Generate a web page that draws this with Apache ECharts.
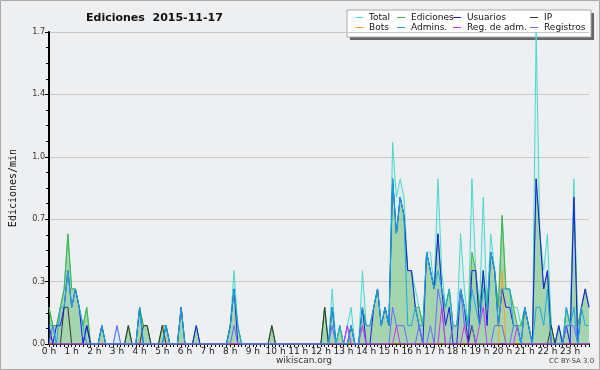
<!DOCTYPE html>
<html>
<head>
<meta charset="utf-8">
<script src="https://cdn.jsdelivr.net/npm/echarts@6/dist/echarts.min.js"></script>
<style>
    html, body { margin: 0; padding: 0; background: #eeeff1; }
    #ediciones { width: 600px; height: 370px; }
</style>
</head>
<body>
<div id="ediciones"></div>
<script>
    // tramos de 10 minutos, 0:00 .. 23:50
    var horas = [];
    for (var h = 0; h < 24; h++) {
        for (var m = 0; m < 60; m += 10) horas.push(h + ':' + (m < 10 ? '0' + m : m));
    }

    var total = [
        .2, .1, .1, .2, .3, .6, .3, .3, .2, .1, .2, 0,
        0, 0, .1, 0, 0, 0, .1, 0, 0, .1, 0, 0,
        .2, .1, .1, 0, 0, 0, .1, .1, 0, 0, 0, .2,
        0, 0, 0, .1, 0, 0, 0, 0, 0, 0, 0, 0,
        .1, .4, .1, 0, 0, 0, 0, 0, 0, 0, 0, .1,
        0, 0, 0, 0, 0, 0, 0, 0, 0, 0, 0, 0,
        0, .2, 0, .3, 0, .1, 0, .1, .2, 0, 0, .4,
        .1, .1, .2, .3, .1, .2, .1, 1.1, .8, .9, .8, .4,
        .4, .3, .2, .1, .5, .5, .3, .9, .4, .2, .3, .1,
        .1, .6, .3, .1, .9, .4, .2, .8, .2, .6, .4, .2,
        .7, .3, .3, .2, .2, .1, .2, .1, 0, 1.7, .6, .4,
        .6, .1, 0, .1, 0, .2, .1, .9, .1, .2, .3, .2
    ];
    var ediciones = [
        .2, .1, .1, .2, .3, .6, .3, .3, .2, .1, .2, 0,
        0, 0, .1, 0, 0, 0, 0, 0, 0, .1, 0, 0,
        .2, .1, .1, 0, 0, 0, .1, .1, 0, 0, 0, .2,
        0, 0, 0, .1, 0, 0, 0, 0, 0, 0, 0, 0,
        .1, .3, .1, 0, 0, 0, 0, 0, 0, 0, 0, .1,
        0, 0, 0, 0, 0, 0, 0, 0, 0, 0, 0, 0,
        0, .2, 0, .2, 0, .1, 0, 0, .1, 0, 0, .2,
        .1, .1, .2, .3, .1, .2, .1, .9, .6, .8, .7, .4,
        .4, .2, .2, .1, .5, .4, .3, .6, .3, .2, .3, .1,
        .1, .3, .2, .1, .5, .4, .2, .4, .2, .5, .4, .2,
        .7, .3, .3, .2, .1, .1, .2, .1, 0, .9, .6, .3,
        .4, .1, 0, .1, 0, .2, .1, .8, .1, .2, .3, .2
    ];
    var usuarios = [
        .1, 0, .1, .1, .2, .4, .2, .3, .2, 0, .1, 0,
        0, 0, .1, 0, 0, 0, 0, 0, 0, 0, 0, 0,
        .2, 0, 0, 0, 0, 0, 0, .1, 0, 0, 0, .2,
        0, 0, 0, .1, 0, 0, 0, 0, 0, 0, 0, 0,
        .1, .3, 0, 0, 0, 0, 0, 0, 0, 0, 0, 0,
        0, 0, 0, 0, 0, 0, 0, 0, 0, 0, 0, 0,
        0, 0, 0, .2, 0, 0, 0, 0, .1, 0, 0, .2,
        0, 0, .2, .3, .1, .2, .1, .9, .6, .8, .7, .4,
        .4, .2, .1, 0, .5, .4, .3, .6, .3, .1, .2, 0,
        0, .3, .2, 0, .4, .4, .1, .4, .1, .5, .4, .1,
        .3, .2, .2, .1, .1, 0, .2, .1, 0, .9, .6, .3,
        .4, 0, 0, .1, 0, .1, 0, .8, 0, .2, .3, .2
    ];
    var ip = [
        0, 0, 0, 0, .2, .2, 0, 0, 0, 0, .1, 0,
        0, 0, 0, 0, 0, 0, 0, 0, 0, .1, 0, 0,
        0, .1, .1, 0, 0, 0, .1, 0, 0, 0, 0, 0,
        0, 0, 0, 0, 0, 0, 0, 0, 0, 0, 0, 0,
        0, 0, 0, 0, 0, 0, 0, 0, 0, 0, 0, .1,
        0, 0, 0, 0, 0, 0, 0, 0, 0, 0, 0, 0,
        0, .2, 0, 0, 0, 0, 0, 0, 0, 0, 0, 0,
        0, 0, 0, 0, 0, 0, 0, 0, 0, 0, 0, 0,
        0, 0, 0, 0, 0, 0, 0, 0, 0, 0, 0, 0,
        0, 0, 0, 0, .1, 0, 0, 0, 0, 0, 0, 0,
        0, 0, 0, 0, 0, 0, 0, 0, 0, 0, 0, 0,
        0, .1, 0, 0, 0, 0, 0, 0, 0, 0, 0, 0
    ];
    var bots = [
        0, 0, 0, 0, 0, 0, 0, 0, 0, 0, 0, 0,
        0, 0, 0, 0, 0, 0, 0, 0, 0, 0, 0, 0,
        0, 0, 0, 0, 0, 0, 0, 0, 0, 0, 0, 0,
        0, 0, 0, 0, 0, 0, 0, 0, 0, 0, 0, 0,
        0, 0, 0, 0, 0, 0, 0, 0, 0, 0, 0, 0,
        0, 0, 0, 0, 0, 0, 0, 0, 0, 0, 0, 0,
        0, 0, 0, 0, 0, 0, 0, 0, 0, 0, 0, 0,
        0, 0, 0, 0, 0, 0, 0, 0, 0, 0, 0, 0,
        0, 0, 0, 0, 0, 0, 0, 0, 0, 0, 0, 0,
        0, 0, 0, 0, 0, 0, 0, 0, 0, 0, 0, 0,
        .4, 0, 0, 0, 0, 0, 0, 0, 0, 0, 0, 0,
        0, 0, 0, 0, 0, 0, 0, 0, 0, 0, 0, 0
    ];
    var admins = [
        .1, .1, 0, .2, .2, .4, .2, .3, .2, .1, 0, 0,
        0, 0, .1, 0, 0, 0, 0, 0, 0, 0, 0, 0,
        .2, 0, 0, 0, 0, 0, 0, .1, 0, 0, 0, .2,
        0, 0, 0, 0, 0, 0, 0, 0, 0, 0, 0, 0,
        .1, .3, .1, 0, 0, 0, 0, 0, 0, 0, 0, 0,
        0, 0, 0, 0, 0, 0, 0, 0, 0, 0, 0, 0,
        0, 0, 0, .2, 0, .1, 0, 0, .1, 0, 0, .2,
        .1, .1, .2, .3, .1, .2, .1, .9, .6, .8, .7, .1,
        .1, .2, .1, .1, .5, .4, .3, .4, .3, .2, .3, .1,
        .1, .3, .2, .1, .3, .2, .1, .3, .2, .5, .4, .1,
        .3, .3, .3, .1, .1, 0, .2, .1, 0, .2, .2, .1,
        .3, 0, 0, 0, 0, .2, .1, .2, 0, .2, .1, .1
    ];
    var regAdm = [
        0, 0, 0, 0, 0, 0, 0, 0, 0, 0, 0, 0,
        0, 0, 0, 0, 0, 0, 0, 0, 0, 0, 0, 0,
        0, 0, 0, 0, 0, 0, 0, 0, 0, 0, 0, 0,
        0, 0, 0, 0, 0, 0, 0, 0, 0, 0, 0, 0,
        0, 0, 0, 0, 0, 0, 0, 0, 0, 0, 0, 0,
        0, 0, 0, 0, 0, 0, 0, 0, 0, 0, 0, 0,
        0, 0, 0, 0, 0, 0, 0, .1, 0, 0, 0, .1,
        0, 0, 0, 0, 0, 0, 0, 0, .1, 0, 0, 0,
        0, 0, 0, 0, 0, 0, 0, 0, .2, 0, 0, 0,
        0, 0, .1, 0, 0, 0, .1, .2, 0, 0, 0, 0,
        0, 0, 0, 0, .1, 0, 0, 0, 0, 0, 0, 0,
        0, 0, 0, 0, 0, 0, 0, 0, 0, 0, 0, 0
    ];
    var registros = [
        0, .1, 0, 0, 0, 0, 0, 0, 0, 0, 0, 0,
        0, 0, 0, 0, 0, 0, .1, 0, 0, 0, 0, 0,
        0, 0, 0, 0, 0, 0, 0, 0, 0, 0, 0, 0,
        0, 0, 0, 0, 0, 0, 0, 0, 0, 0, 0, 0,
        0, .1, 0, 0, 0, 0, 0, 0, 0, 0, 0, 0,
        0, 0, 0, 0, 0, 0, 0, 0, 0, 0, 0, 0,
        0, 0, 0, .1, 0, 0, 0, .1, 0, 0, 0, 0,
        0, 0, 0, 0, 0, 0, 0, .2, .1, .1, .1, 0,
        0, 0, .1, 0, 0, .1, 0, .3, .2, 0, 0, .1,
        .1, .3, .1, .1, .1, 0, 0, 0, 0, 0, .1, .1,
        .1, 0, 0, .1, .1, 0, 0, 0, 0, 0, 0, 0,
        0, 0, 0, 0, 0, .1, .1, .1, 0, 0, 0, 0
    ];

    var leyenda = ['Total', 'Ediciones', 'Usuarios', 'IP', 'Bots', 'Admins.', 'Reg. de adm.', 'Registros'];
    var leyendaPos = [[355, 13], [397, 13], [453, 13], [530, 13], [355, 23], [397, 23], [453, 23], [530, 23]];

    function linea(name, data, color, extra) {
        var s = {
            name: name,
            type: 'line',
            data: data,
            symbol: 'none',
            color: color,
            lineStyle: { width: 1, color: color },
            emphasis: { disabled: true }
        };
        for (var k in extra) s[k] = extra[k];
        return s;
    }

    var chart = echarts.init(document.getElementById('ediciones'));
    chart.setOption({
        animation: false,
        backgroundColor: '#eeeff1',
        textStyle: { fontFamily: 'DejaVu Sans' },
        grid: { left: 46, right: 11, top: 32, bottom: 26 },
        title: {
            text: 'Ediciones  2015-11-17',
            left: 81, top: 8,
            textStyle: { fontSize: 11, fontWeight: 'bold', color: '#111', fontFamily: 'DejaVu Sans' }
        },
        legend: leyenda.map(function (n, i) {
            return {
                data: [n],
                left: leyendaPos[i][0], top: leyendaPos[i][1],
                padding: 0,
                icon: 'rect', itemWidth: 8, itemHeight: 1, itemGap: 0,
                selectedMode: false,
                textStyle: { fontSize: 9, color: '#111', fontFamily: 'DejaVu Sans', padding: [0, 0, 0, 1] }
            };
        }),
        graphic: [
            { type: 'rect', z: 0, shape: { x: 350, y: 13, width: 244, height: 27 }, style: { fill: '#666' } },
            { type: 'rect', z: 0, shape: { x: 347, y: 10, width: 244, height: 27 }, style: { fill: '#fff', stroke: '#aaa', lineWidth: 1 } },
            { type: 'rect', z: 0, shape: { x: 0.5, y: 0.5, width: 599, height: 369 }, style: { fill: 'none', stroke: '#aaa', lineWidth: 1 } },
            { type: 'text', left: 276, top: 356, style: { text: 'wikiscan.org', fontSize: 9, fill: '#333', fontFamily: 'DejaVu Sans' } },
            { type: 'text', left: 549, top: 358, style: { text: 'CC BY-SA 3.0', fontSize: 7, fill: '#444', fontFamily: 'DejaVu Sans' } }
        ],
        xAxis: {
            type: 'category',
            data: horas,
            boundaryGap: false,
            axisLine: { lineStyle: { color: '#000', width: 2 } },
            axisTick: { interval: 0, length: 3, lineStyle: { color: '#000' } },
            axisLabel: {
                interval: 5, fontSize: 9, color: '#222', margin: 3,
                formatter: function (v, i) { return (i / 6) + ' h'; }
            },
            splitLine: { show: false }
        },
        yAxis: {
            type: 'value',
            min: 0, max: 1.7, interval: 0.34,
            name: 'Ediciones/min',
            nameLocation: 'middle',
            nameGap: 31,
            nameTextStyle: { fontSize: 10, color: '#111', fontFamily: 'DejaVu Sans Mono' },
            axisLine: { show: true, lineStyle: { color: '#000', width: 2 } },
            axisTick: { show: true, length: 4, lineStyle: { color: '#000' } },
            minorTick: { show: true, splitNumber: 4, length: 3, lineStyle: { color: '#000' } },
            splitLine: { lineStyle: { color: '#c8c8c8' } },
            axisLabel: {
                fontSize: 8, color: '#333', margin: 4,
                formatter: function (v) { return v.toFixed(1); }
            }
        },
        series: [
            linea('Total', total, '#48d8cc', { areaStyle: { color: 'rgba(72,216,204,0.12)' }, z: 2 }),
            linea('Ediciones', ediciones, '#44b444', { areaStyle: { color: 'rgba(60,170,60,0.5)' }, z: 3 }),
            linea('IP', ip, '#333333', { z: 4 }),
            linea('Bots', bots, '#ffa020', { z: 4 }),
            linea('Usuarios', usuarios, '#1a1aee', { z: 5 }),
            linea('Registros', registros, '#6a6aff', { z: 5 }),
            linea('Reg. de adm.', regAdm, '#cc33ee', { z: 5 }),
            linea('Admins.', admins, '#1ca8e0', { z: 6 })
        ]
    });
</script>
</body>
</html>
